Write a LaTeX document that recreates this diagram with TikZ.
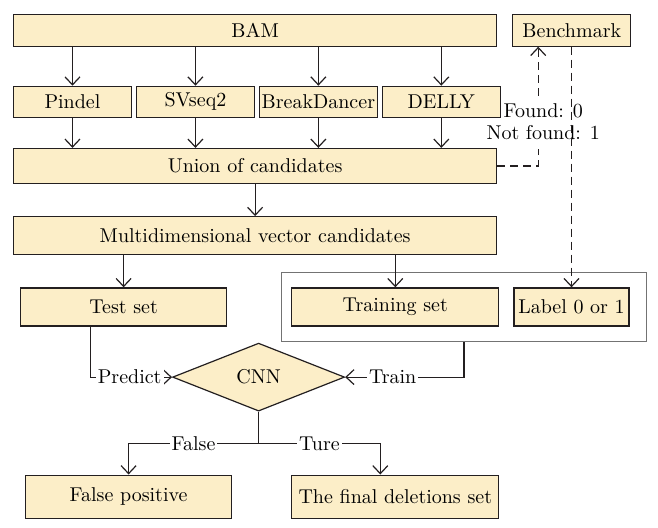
\documentclass[tikz,border=0pt]{standalone}
\usepackage{amsmath,amssymb}
\usepackage{tikz}
\usetikzlibrary{shapes.geometric, arrows.meta, positioning, calc, fit}
\usepackage{xcolor}
\definecolor{boxfill}{HTML}{FCEEC8}
\definecolor{boxline}{HTML}{231F20}

\begin{document}
\begin{tikzpicture}[
    node distance=16pt,
    >={Straight Barb[length=4pt,width=7.5pt]},
    every node/.style={align=center, font=\fontsize{10}{11}\selectfont}
]
    % Define styles
    \tikzstyle{block} = [rectangle, minimum height=15.75pt, inner sep=0pt, text centered, draw=boxline, fill=boxfill, line width=0.6pt]
    \tikzstyle{tool} = [block, minimum width=58.875pt, minimum height=15.5pt]
    \tikzstyle{wide} = [block, minimum width=241.5pt]
    \tikzstyle{half} = [block, minimum width=103pt, minimum height=19pt]
    \tikzstyle{decision} = [diamond, minimum width=86pt, minimum height=34pt, inner sep=0pt, draw=boxline, fill=boxfill, line width=0.6pt]
    \tikzstyle{arrow} = [draw=boxline, line width=0.6pt, ->]
    \tikzstyle{dashline} = [draw=boxline, line width=0.6pt, dash pattern=on 4pt off 2.5pt]
    \tikzstyle{dasharrow} = [dashline, ->]
    \tikzstyle{tag} = [fill=white, inner sep=1pt]

    \useasboundingbox (0,0) rectangle (329pt,-263.5pt);

    % Input
    \node [wide, anchor=north west] (bam) at (6.5pt,-7pt) {BAM};
    \node [block, right=7.5pt of bam, minimum width=59pt] (bench) {Benchmark};

    % Four callers in a row
    \node [tool, below=19.5pt of bam.south west, anchor=north west] (pindel) {Pindel};
    \node [tool, right=2pt of pindel] (svseq) {SVseq2};
    \node [tool, right=2pt of svseq] (breakd) {BreakDancer};
    \node [tool, right=2pt of breakd] (delly) {DELLY};

    % Merged candidates
    \node [wide, below=15pt of pindel.south west, anchor=north west, minimum height=17.5pt] (union) {Union of candidates};
    \node [wide, below=16pt of union, minimum height=19pt] (multi) {Multidimensional vector candidates};

    % Test and training sets
    \node [half, below=16pt of multi.south west, anchor=north west, xshift=3.5pt] (test) {Test set};
    \node [half, right=32pt of test, minimum width=103.5pt] (training) {Training set};
    \node [half, right=7pt of training, minimum width=57.5pt] (label) {Label 0 or 1};
    \node [draw=black!55, line width=0.6pt, fit=(training)(label), inner xsep=6.75pt, inner ysep=7.5pt, xshift=1.75pt] (trainbox) {};

    % Classifier
    \node [decision, anchor=north] (cnn) at ($(test.south -| multi.south)+(1.75pt,-8pt)$) {CNN};
    \coordinate [below=16pt of cnn.south] (split);

    % Results
    \node [half, below=74pt of test.south west, anchor=north west, xshift=2.5pt, minimum height=21.5pt] (falsepos) {False positive};
    \node [half, below=74pt of training.south west, anchor=north west, minimum width=103.5pt, minimum height=21.5pt] (final) {The final deletions set};

    % Benchmark links
    \coordinate [right=13pt of bench.south west] (found);
    \node [below=24.5pt of found, xshift=2.5pt, inner sep=4pt] (fnf) {Found: 0\\Not found: 1};
    \draw [dashline] (union.east) -| (fnf.south -| found);
    \draw [dasharrow] (fnf.north -| found) -- (found);
    \draw [dasharrow] (bench.south -| label.north) -- (label.north);

    % Arrows from BAM through the callers
    \foreach \t in {pindel, svseq, breakd, delly} {
        \draw [arrow] (bam.south -| \t.north) -- (\t.north);
        \draw [arrow] (\t.south) -- (union.north -| \t.south);
    }

    % Arrows down to the sets
    \draw [arrow] (union) -- (multi);
    \draw [arrow] (multi.south -| test.north) -- (test.north);
    \draw [arrow] (multi.south -| training.north) -- (training.north);

    % Arrows into and out of the CNN
    \draw [arrow] ([xshift=-16.5pt]test.south) |- node [tag, pos=0.74] {Predict} (cnn.west);
    \draw [arrow] (trainbox.south) |- node [tag, pos=0.8] {Train} (cnn.east);
    \draw [arrow, -] (cnn.south) -- (split);
    \draw [arrow] (split) -| node [tag, pos=0.25] {False} (falsepos.north);
    \draw [arrow] (split) -| node [tag, pos=0.25] {Ture} ([xshift=-7.5pt]final.north);

\end{tikzpicture}
\end{document}
